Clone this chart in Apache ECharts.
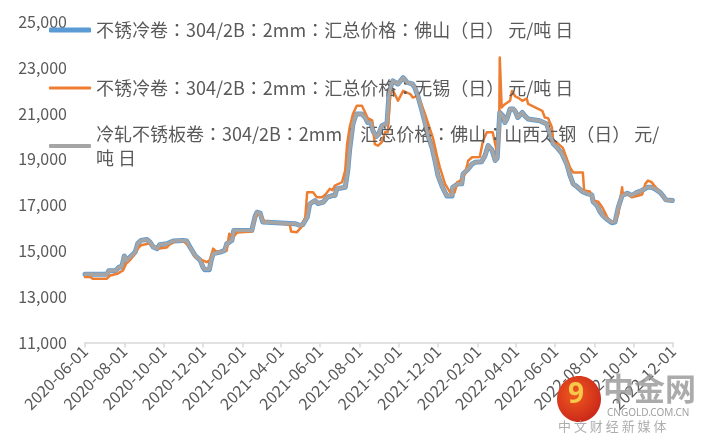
<!DOCTYPE html>
<html><head><meta charset="utf-8">
<script src="https://cdn.jsdelivr.net/npm/echarts@6/dist/echarts.min.js"></script>
<style>html,body{margin:0;padding:0;background:#fff}#c{width:713px;height:446px}</style>
</head><body><div id="c"></div>
<script>
const seriesNames = [
  '不锈冷卷：304/2B：2mm：汇总价格：佛山（日） 元/吨 日',
  '不锈冷卷：304/2B：2mm：汇总价格：无锡（日） 元/吨 日',
  '冷轧不锈板卷：304/2B：2mm：汇总价格：佛山：山西太钢（日） 元/吨 日'
];
const tickDates = ['2020-06-01','2020-08-01','2020-10-01','2020-12-01','2021-02-01','2021-04-01','2021-06-01','2021-08-01','2021-10-01','2021-12-01','2022-02-01','2022-04-01','2022-06-01','2022-08-01','2022-10-01','2022-12-01'];
const yMin = 11000, yMax = 25000, yStep = 2000;

// Foshan (blue) and Taigang (gray) share dates
const datesFS = ['2020-06-01','2020-07-05','2020-07-08','2020-07-19','2020-07-24','2020-07-28','2020-08-01','2020-08-05','2020-08-10','2020-08-18','2020-08-22','2020-08-27','2020-09-05','2020-09-10','2020-09-15','2020-09-21','2020-09-25','2020-10-06','2020-10-16','2020-10-31','2020-11-06','2020-11-11','2020-11-19','2020-11-27','2020-12-01','2020-12-04','2020-12-11','2020-12-14','2020-12-17','2020-12-28','2021-01-04','2021-01-07','2021-01-15','2021-01-18','2021-02-15','2021-02-20','2021-02-23','2021-02-28','2021-03-04','2021-04-23','2021-05-01','2021-05-05','2021-05-12','2021-05-16','2021-05-24','2021-05-29','2021-06-06','2021-06-12','2021-06-20','2021-06-24','2021-06-27','2021-07-10','2021-07-14','2021-07-17','2021-07-22','2021-07-27','2021-08-05','2021-08-10','2021-08-14','2021-08-19','2021-08-22','2021-08-27','2021-08-31','2021-09-05','2021-09-13','2021-09-16','2021-09-19','2021-09-22','2021-09-30','2021-10-08','2021-10-14','2021-10-22','2021-10-26','2021-10-31','2021-11-06','2021-11-11','2021-11-16','2021-11-22','2021-11-26','2021-12-01','2021-12-07','2021-12-12','2021-12-15','2021-12-23','2021-12-24','2022-01-01','2022-01-07','2022-01-09','2022-01-17','2022-01-23','2022-01-28','2022-02-07','2022-02-12','2022-02-17','2022-02-23','2022-02-28','2022-03-03','2022-03-07','2022-03-12','2022-03-15','2022-03-18','2022-03-23','2022-03-28','2022-03-31','2022-04-04','2022-04-11','2022-04-15','2022-04-20','2022-05-08','2022-05-19','2022-05-24','2022-05-29','2022-06-04','2022-06-12','2022-06-19','2022-06-24','2022-06-29','2022-07-06','2022-07-13','2022-07-22','2022-07-28','2022-07-30','2022-08-05','2022-08-10','2022-08-14','2022-08-22','2022-08-28','2022-09-02','2022-09-07','2022-09-13','2022-09-21','2022-09-28','2022-10-06','2022-10-14','2022-10-22','2022-10-29','2022-11-03','2022-11-11','2022-11-15','2022-11-20','2022-11-30'];
const taigangVals = [13980,13980,14130,14150,14300,14300,14780,14590,14730,14950,15330,15460,15500,15380,15170,15100,15270,15310,15430,15460,15430,15170,14800,14590,14300,14200,14200,14590,14880,14950,15020,15310,15460,15890,15900,16500,16690,16650,16260,16190,16110,16150,16470,17050,17200,17070,17130,17340,17420,17420,17710,17780,18510,19450,20540,20980,20980,20830,20610,20600,20250,20000,20100,20470,20580,21850,22200,22430,22290,22570,22360,22300,22140,21750,21150,20600,20000,19500,19000,18300,17850,17560,17420,17420,17780,17930,17930,18360,18580,18800,18870,18900,19160,19600,19400,18950,19050,21050,20900,20610,20750,21200,21200,21100,20830,21050,20900,20760,20690,20540,20100,19680,19520,19230,18800,18300,17930,17780,17600,17490,17450,17150,16980,16700,16550,16350,16250,16280,16900,17420,17520,17420,17560,17640,17780,17780,17710,17560,17420,17230,17200];
const foshanVals = [13980,13980,14130,14150,14300,14300,14780,14590,14730,14950,15330,15460,15500,15380,15170,15100,15270,15310,15430,15460,15430,15170,14800,14590,14300,14180,14180,14590,14880,14950,15020,15310,15460,15890,15900,16500,16690,16650,16260,16190,16110,16150,16470,17050,17200,17070,17130,17340,17420,17420,17710,17780,18510,19450,20540,20980,20980,20830,20610,20600,20250,20000,20100,20470,20580,21850,22200,22430,22290,22570,22360,22300,22140,21750,21150,20600,20000,19500,19000,18300,17850,17560,17400,17400,17780,17930,17930,18360,18580,18800,18870,18900,19160,19600,19400,18950,19050,21050,20900,20610,20750,21200,21200,21100,20830,21050,20900,20760,20690,20540,20100,19680,19520,19230,18800,18300,17930,17780,17600,17490,17450,17150,16980,16700,16550,16350,16230,16260,16900,17420,17520,17420,17560,17640,17780,17780,17710,17560,17420,17230,17200];

// Wuxi (orange)
const datesWX = ['2020-06-01','2020-06-09','2020-06-13','2020-07-05','2020-07-10','2020-07-21','2020-07-30','2020-08-04','2020-08-10','2020-08-18','2020-08-22','2020-08-27','2020-09-05','2020-09-10','2020-09-21','2020-10-06','2020-10-11','2020-10-22','2020-10-31','2020-11-11','2020-11-19','2020-11-30','2020-12-07','2020-12-12','2020-12-17','2020-12-23','2021-01-07','2021-01-11','2021-01-17','2021-01-23','2021-02-15','2021-02-20','2021-02-25','2021-03-01','2021-03-06','2021-04-15','2021-04-17','2021-04-26','2021-05-04','2021-05-09','2021-05-12','2021-05-21','2021-05-27','2021-06-04','2021-06-09','2021-06-16','2021-06-20','2021-06-24','2021-07-05','2021-07-10','2021-07-13','2021-07-17','2021-07-22','2021-07-28','2021-08-05','2021-08-10','2021-08-14','2021-08-21','2021-08-25','2021-08-30','2021-09-05','2021-09-10','2021-09-14','2021-09-18','2021-09-22','2021-09-25','2021-09-30','2021-10-08','2021-10-19','2021-10-23','2021-10-29','2021-11-03','2021-11-11','2021-11-16','2021-11-23','2021-11-30','2021-12-04','2021-12-12','2021-12-20','2021-12-27','2021-12-31','2022-01-04','2022-01-12','2022-01-17','2022-01-23','2022-02-04','2022-02-09','2022-02-15','2022-02-24','2022-02-28','2022-03-03','2022-03-06','2022-03-07','2022-03-10','2022-03-15','2022-03-23','2022-03-26','2022-03-31','2022-04-04','2022-04-11','2022-04-18','2022-04-20','2022-05-12','2022-05-16','2022-05-21','2022-05-27','2022-05-29','2022-06-05','2022-06-13','2022-06-24','2022-06-29','2022-07-14','2022-07-16','2022-07-25','2022-07-30','2022-08-07','2022-08-13','2022-08-17','2022-08-22','2022-08-28','2022-09-02','2022-09-07','2022-09-10','2022-09-13','2022-09-14','2022-09-22','2022-09-28','2022-10-06','2022-10-14','2022-10-19','2022-10-23','2022-10-29','2022-11-06','2022-11-15','2022-11-20','2022-11-30'];
const wuxiVals = [13860,13860,13790,13790,13930,14000,14150,14450,14600,14900,15100,15250,15300,15330,15100,15150,15300,15460,15450,15170,14730,14600,14510,14600,15100,14950,15020,15750,15600,15800,15850,16400,16650,16600,16300,16150,15850,15820,16070,16470,17560,17560,17340,17340,17450,17710,17650,17850,18000,18510,19670,20400,20980,21340,21340,21050,20800,20700,19670,19600,19750,20180,20180,21850,22000,21850,21560,21990,21850,21700,21750,21560,20980,20550,19960,19100,18650,17930,17560,17560,18000,18050,18360,18940,19090,19100,19810,20180,20180,19670,19250,19900,23450,21270,21410,21560,21990,21750,21700,21560,21650,21420,21120,20830,20800,20400,19810,19700,19500,18650,18430,18430,17640,17600,17200,17150,16910,16700,16400,16260,16260,16600,17200,17780,17490,17490,17340,17400,17460,17930,18070,18000,17710,17420,17200,17200];

const FONT = '"Noto Sans CJK SC", "Noto Sans", sans-serif';
const LEGEND_FONT = '"Noto Sans CJK TC", "Noto Sans CJK SC", sans-serif';
const toTs = s => { const p = s.split('-').map(Number); return Date.UTC(p[0], p[1] - 1, p[2]); };
const pair = (ds, vs) => ds.map((d, i) => [toTs(d), vs[i]]);
const tickTs = tickDates.map(toTs);
const fmtDate = v => { const d = new Date(v); const z = n => (n < 10 ? '0' : '') + n;
  return d.getUTCFullYear() + '-' + z(d.getUTCMonth() + 1) + '-' + z(d.getUTCDate()); };

const colors = ['#5B9BD5', '#ED7D31', '#A5A5A5'];
const widths = [5, 2.5, 3.5];
const legendThick = [5, 3, 4];

function legendFor(i, top, extra) {
  return Object.assign({
    orient: 'vertical', left: 49, top: top, padding: 0,
    itemWidth: 42, itemHeight: legendThick[i], itemGap: 0, selectedMode: false,
    icon: 'roundRect',
    data: [seriesNames[i]],
    textStyle: { fontSize: 18, color: '#595959', lineHeight: 24, fontFamily: LEGEND_FONT }
  }, extra || {});
}

const chart = echarts.init(document.getElementById('c'));
chart.setOption({
  animation: false,
  backgroundColor: '#fff',
  grid: { left: 85, right: 40, top: 22, bottom: 103.5, containLabel: false },
  legend: [
    legendFor(0, 18),
    legendFor(1, 76),
    legendFor(2, 110, {
      formatter: n => n.replace('元/吨 日', '元/\n吨 日'),
      textStyle: { fontSize: 18, color: '#595959', lineHeight: 24, fontFamily: LEGEND_FONT, padding: [24, 0, 0, 0] }
    })
  ],
  xAxis: {
    type: 'value',
    min: tickTs[0], max: tickTs[tickTs.length - 1],
    axisLine: { show: true, lineStyle: { color: '#d9d9d9', width: 1.5 } },
    axisTick: { show: true, inside: false, length: 5, lineStyle: { color: '#d9d9d9', width: 1.5 }, customValues: tickTs },
    splitLine: { show: false },
    axisLabel: {
      customValues: tickTs, rotate: 45, margin: 6, color: '#595959', fontSize: 16, fontFamily: FONT,
      formatter: v => fmtDate(v)
    }
  },
  yAxis: {
    type: 'value', min: yMin, max: yMax, interval: yStep,
    axisLine: { show: false }, axisTick: { show: false }, splitLine: { show: false },
    axisLabel: { color: '#595959', fontSize: 16, margin: 18, fontFamily: FONT }
  },
  series: [
    { name: seriesNames[0], type: 'line', data: pair(datesFS, foshanVals), showSymbol: false, symbol: 'none', z: 2,
      lineStyle: { color: colors[0], width: widths[0], cap: 'round', join: 'round' }, itemStyle: { color: colors[0] } },
    { name: seriesNames[1], type: 'line', data: pair(datesWX, wuxiVals), showSymbol: false, symbol: 'none', z: 3,
      lineStyle: { color: colors[1], width: widths[1], cap: 'round', join: 'round' }, itemStyle: { color: colors[1] } },
    { name: seriesNames[2], type: 'line', data: pair(datesFS, taigangVals), showSymbol: false, symbol: 'none', z: 4,
      lineStyle: { color: colors[2], width: widths[2], cap: 'round', join: 'round' }, itemStyle: { color: colors[2] } }
  ],
  graphic: [
    { type: 'ellipse', z: 100, shape: { cx: 579, cy: 399, rx: 22, ry: 23 },
      style: { fill: new echarts.graphic.RadialGradient(0.4, 0.4, 0.7, [{ offset: 0, color: '#f05a1e' }, { offset: 1, color: '#c8241a' }]) } },
    { type: 'text', z: 101, left: 568, top: 381, style: { text: '9', fill: '#f7c94a', font: 'bold 28px "Noto Sans"' } },
    { type: 'text', z: 100, left: 603, top: 373, style: { text: '中金网', fill: 'rgba(150,150,150,0.8)', font: 'bold 31px "Noto Sans CJK SC"' } },
    { type: 'text', z: 100, left: 607, top: 408, style: { text: 'CNGOLD.COM.CN', fill: 'rgba(150,150,150,0.9)', font: '10px "Noto Sans"' } },
    { type: 'text', z: 100, left: 558, top: 420, style: { text: '中 文 财 经 新 媒 体', fill: 'rgba(165,165,165,0.9)', font: '13px "Noto Sans CJK SC"' } }
  ]
});
</script></body></html>
